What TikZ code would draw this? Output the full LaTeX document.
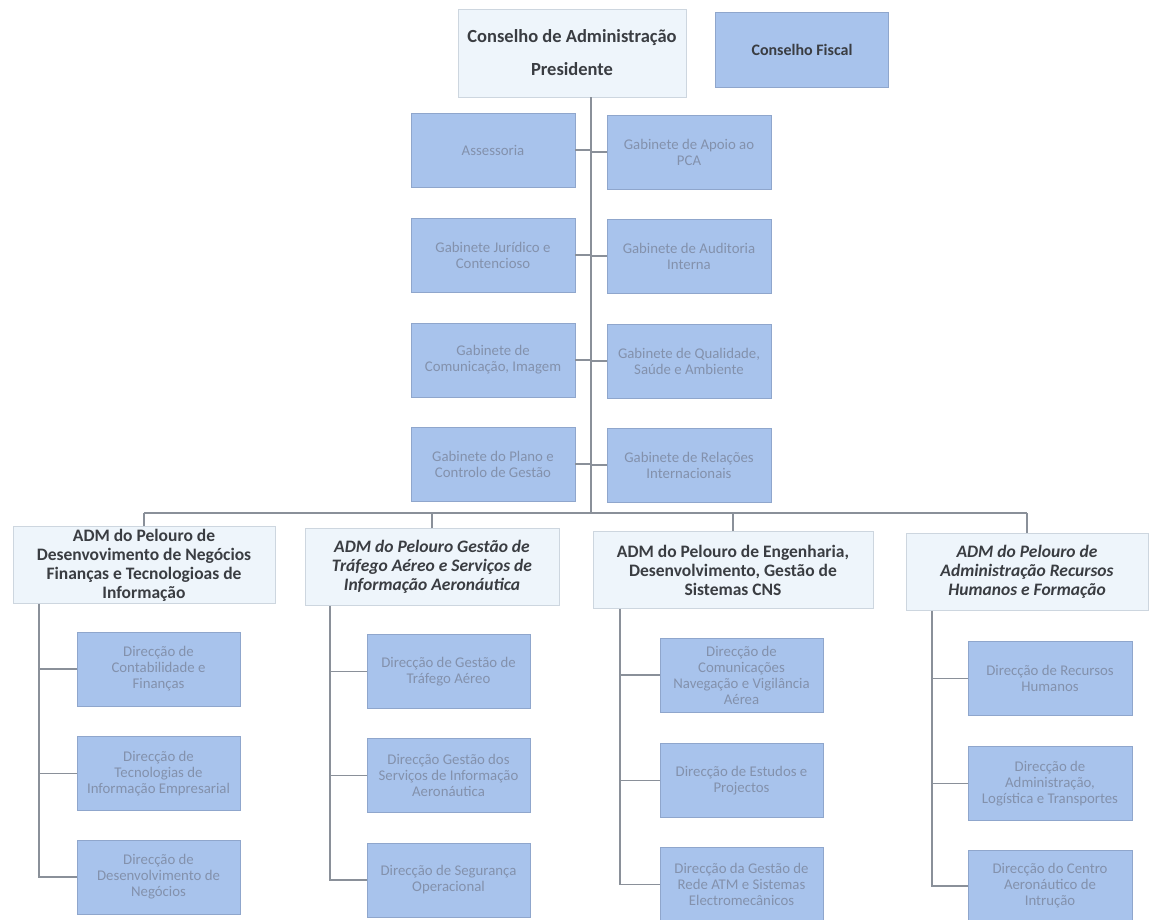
\documentclass[tikz,border=0pt]{standalone}
\usepackage{fontspec}
\setmainfont{Carlito}
\definecolor{subblue}{HTML}{A8C3EC}
\definecolor{subedge}{HTML}{8FA6CC}
\definecolor{subtext}{HTML}{8391AC}
\definecolor{hdrfill}{HTML}{EEF5FB}
\definecolor{hdredge}{HTML}{CDD6DF}
\definecolor{hdrtext}{HTML}{3A3D42}
\definecolor{linec}{HTML}{8A9099}
\begin{document}
\begin{tikzpicture}[x=1pt,y=-1pt,
  subbox/.style={draw=subedge, line width=0.6pt, fill=subblue, minimum height=74pt, inner sep=1pt, align=center, text=subtext, font=\fontsize{14.8}{16}\selectfont},
  gabbox/.style={subbox, minimum width=164pt},
  dirbox/.style={subbox, minimum width=163pt},
  hdrbox/.style={draw=hdredge, line width=0.6pt, fill=hdrfill, inner sep=2pt, align=center, text=hdrtext, minimum height=77pt, font=\fontsize{17.5}{19}\selectfont\bfseries},
  hdrit/.style={hdrbox, font=\fontsize{17.5}{19}\selectfont\bfseries\itshape},
  link/.style={draw=linec, line width=1.1pt}
]
\useasboundingbox[fill=white] (0,0) rectangle (1150,920);

% top level
\node[hdrbox, minimum width=228pt, minimum height=88pt, font=\fontsize{18.5}{33}\selectfont\bfseries] (top) at (572,53) {Conselho de Administração\\Presidente};
\node[draw=subedge, line width=0.6pt, fill=subblue, minimum width=173pt, minimum height=75pt, text=hdrtext, font=\fontsize{16}{18}\selectfont\bfseries] (cf) at (802,50) {Conselho Fiscal};

% gabinetes
\node[gabbox] (g1l) at (493,150) {Assessoria};
\node[gabbox] (g1r) at (689,152) {Gabinete de Apoio ao\\PCA};
\node[gabbox] (g2l) at (493,255) {Gabinete Jurídico e\\Contencioso};
\node[gabbox] (g2r) at (689,256) {Gabinete de Auditoria\\Interna};
\node[gabbox] (g3l) at (493,360) {Gabinete de\\Comunicação, Imagem};
\node[gabbox] (g3r) at (689,361) {Gabinete de Qualidade,\\Saúde e Ambiente};
\node[gabbox] (g4l) at (493,464) {Gabinete do Plano e\\Controlo de Gestão};
\node[gabbox] (g4r) at (689,465) {Gabinete de Relações\\Internacionais};

% ADM headers
\node[hdrbox, minimum width=262pt] (a1) at (144,565) {ADM do Pelouro de\\Desenvovimento de Negócios\\Finanças e Tecnologioas de\\Informação};
\node[hdrit, minimum width=254pt] (a2) at (432,567) {ADM do Pelouro Gestão de\\Tráfego Aéreo e Serviços de\\Informação Aeronáutica};
\node[hdrbox, minimum width=280pt] (a3) at (733,570) {ADM do Pelouro de Engenharia,\\Desenvolvimento, Gestão de\\Sistemas CNS};
\node[hdrit, minimum width=242pt] (a4) at (1027,572) {ADM do Pelouro de\\Administração Recursos\\Humanos e Formação};

% direcções column 1
\node[dirbox] (d11) at (158.5,669) {Direcção de\\Contabilidade e\\Finanças};
\node[dirbox] (d12) at (158.5,773.5) {Direcção de\\Tecnologias de\\Informação Empresarial};
\node[dirbox] (d13) at (158.5,877) {Direcção de\\Desenvolvimento de\\Negócios};
% column 2
\node[dirbox] (d21) at (448.5,671.5) {Direcção de Gestão de\\Tráfego Aéreo};
\node[dirbox] (d22) at (448.5,775.5) {Direcção Gestão dos\\Serviços de Informação\\Aeronáutica};
\node[dirbox] (d23) at (448.5,880) {Direcção de Segurança\\Operacional};
% column 3
\node[dirbox] (d31) at (741.5,675) {Direcção de\\Comunicações\\Navegação e Vigilância\\Aérea};
\node[dirbox] (d32) at (741.5,780.5) {Direcção de Estudos e\\Projectos};
\node[dirbox] (d33) at (741.5,884.5) {Direcção da Gestão de\\Rede ATM e Sistemas\\Electromecânicos};
% column 4
\node[dirbox, minimum width=164pt] (d41) at (1050,678.5) {Direcção de Recursos\\Humanos};
\node[dirbox, minimum width=164pt] (d42) at (1050,783.5) {Direcção de\\Administração,\\Logística e Transportes};
\node[dirbox, minimum width=164pt, minimum height=72pt] (d43) at (1050,886) {Direcção do Centro\\Aeronáutico de\\Intrução};

% trunk and bus
\coordinate (tk) at (591,513);
\coordinate (busL) at (144,513);
\coordinate (busR) at (1027,513);
\draw[link] (tk |- top.south) -- (tk);
\draw[link] (busL) -- (busR);
\foreach \r in {1,2,3,4}{
  \draw[link] (g\r l.east) -- (g\r l.east -| tk);
  \draw[link] (g\r r.west) -- (g\r r.west -| tk);
}
\foreach \a in {a1,a2,a3,a4}{
  \draw[link] (\a.north) -- (\a.north |- busL);
}

% sub trunks
\coordinate (v1) at (39,0);
\coordinate (v2) at (330,0);
\coordinate (v3) at (620,0);
\coordinate (v4) at (932,0);
\foreach \c in {1,2,3}{
  \draw[link] (a\c.south -| v\c) -- (d\c3.west -| v\c) -- (d\c3.west);
  \draw[link] (d\c1.west) -- (d\c1.west -| v\c);
  \draw[link] (d\c2.west) -- (d\c2.west -| v\c);
}
\draw[link] (a4.south -| v4) -- (d43.west -| v4) -- (d43.west);
\draw[link] (d41.west) -- (d41.west -| v4);
\draw[link] (d42.west) -- (d42.west -| v4);
\end{tikzpicture}
\end{document}
